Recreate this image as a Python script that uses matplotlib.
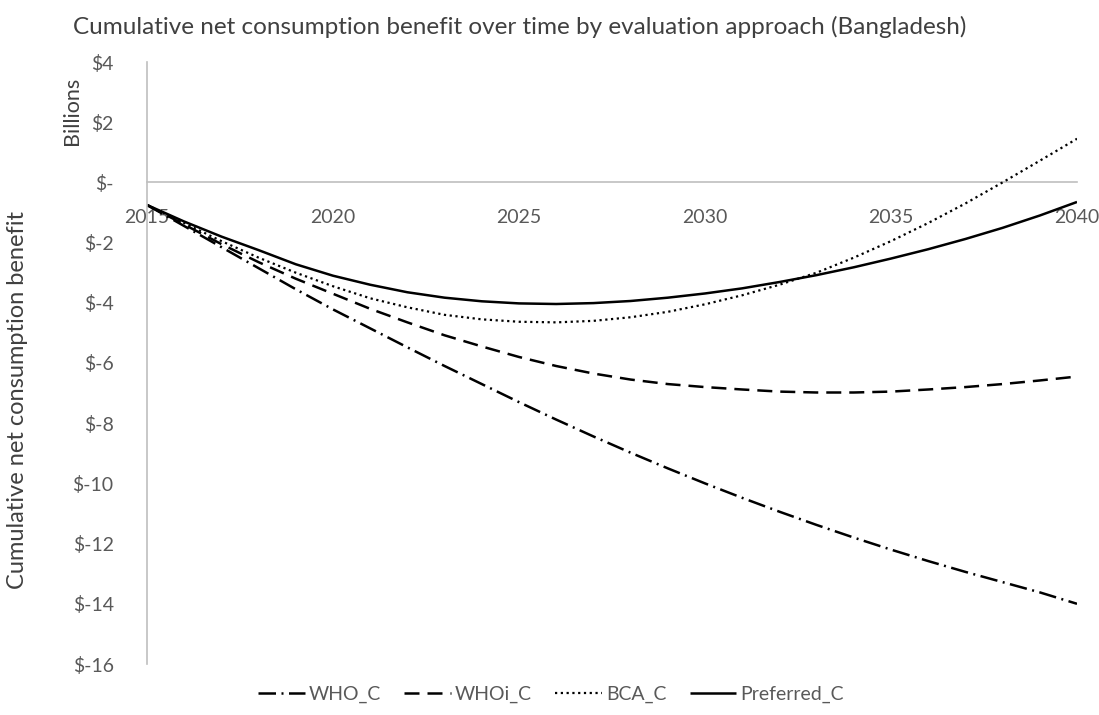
import matplotlib
matplotlib.use("Agg")
import matplotlib.pyplot as plt

years = list(range(2015, 2041))
who_c = [-0.75, -1.45, -2.15, -2.85, -3.55, -4.22, -4.85, -5.48, -6.10, -6.70,
         -7.30, -7.88, -8.44, -8.98, -9.50, -10.00, -10.48, -10.94, -11.38, -11.80,
         -12.20, -12.58, -12.94, -13.28, -13.62, -14.00]
whoi_c = [-0.75, -1.40, -2.05, -2.65, -3.20, -3.70, -4.20, -4.65, -5.08, -5.45,
          -5.80, -6.10, -6.35, -6.55, -6.70, -6.80, -6.88, -6.95, -6.98, -6.98,
          -6.95, -6.88, -6.80, -6.70, -6.58, -6.45]
bca_c = [-0.75, -1.35, -1.95, -2.50, -3.00, -3.45, -3.85, -4.15, -4.40, -4.55,
         -4.63, -4.65, -4.60, -4.48, -4.30, -4.05, -3.75, -3.40, -3.00, -2.50,
         -1.95, -1.35, -0.70, 0.00, 0.72, 1.45]
preferred_c = [-0.75, -1.30, -1.80, -2.25, -2.72, -3.10, -3.40, -3.65, -3.83, -3.95,
               -4.02, -4.04, -4.01, -3.94, -3.83, -3.69, -3.52, -3.31, -3.08, -2.82,
               -2.53, -2.22, -1.88, -1.51, -1.10, -0.65]

series_names = ["WHO_C", "WHOi_C", "BCA_C", "Preferred_C"]
x_ticks = [2015, 2020, 2025, 2030, 2035, 2040]
y_ticks = [4, 2, 0, -2, -4, -6, -8, -10, -12, -14, -16]
y_tick_labels = ["$4", "$2", "$-", "$-2", "$-4", "$-6", "$-8", "$-10", "$-12", "$-14", "$-16"]

title = "Cumulative net consumption benefit over time by evaluation approach (Bangladesh)"

plt.rcParams['font.family'] = ['Lato', 'DejaVu Sans']
gray = "#595959"
axis_gray = "#bfbfbf"

fig = plt.figure(figsize=(10.99, 7.15), dpi=100)
ax = fig.add_axes([147/1099, 1-664/715, (1077-147)/1099, (664-62)/715])

styles = [
    dict(linestyle=(0, (7, 2.2, 0.8, 2.2)), linewidth=1.8),
    dict(linestyle=(0, (6, 3.2)), linewidth=1.8),
    dict(linestyle=(0, (1, 1.6)), linewidth=1.6),
    dict(linestyle='-', linewidth=1.8),
]
for vals, name, st in zip([who_c, whoi_c, bca_c, preferred_c], series_names, styles):
    ax.plot(years, vals, color='black', label=name, solid_capstyle='butt',
            dash_capstyle='butt', **st)

ax.set_xlim(2015, 2040)
ax.set_ylim(-16, 4)
ax.set_yticks(y_ticks)
ax.set_yticklabels(y_tick_labels)
ax.set_xticks(x_ticks)
ax.set_xticklabels([str(t) for t in x_ticks])

for s in ['top', 'right']:
    ax.spines[s].set_visible(False)
ax.spines['bottom'].set_position(('data', 0))
ax.spines['bottom'].set_color(axis_gray)
ax.spines['bottom'].set_linewidth(1.2)
ax.spines['bottom'].set_zorder(0)
ax.spines['left'].set_color(axis_gray)
ax.spines['left'].set_linewidth(1.2)
ax.tick_params(axis='both', length=0, labelsize=14, labelcolor=gray)
ax.tick_params(axis='x', pad=19)
ax.tick_params(axis='y', pad=24)

fig.text(520/1099, 1-27/715, title, ha='center', va='center', fontsize=17.5, color='#404040')
fig.text(72/1099, 1-111/715, "Billions", rotation=90, ha='center', va='center', fontsize=15.5, color='#404040')
fig.text(18/1099, 1-400/715, "Cumulative net consumption benefit", rotation=90, ha='center',
         va='center', fontsize=17, color='#404040')

leg = fig.legend(loc='center', bbox_to_anchor=(551/1099, 1-694/715), ncol=4, frameon=False,
                 fontsize=14, handlelength=2.4, columnspacing=1.2, handletextpad=0.2)
for t in leg.get_texts():
    t.set_color(gray)

fig.savefig("out.png", dpi=100)
